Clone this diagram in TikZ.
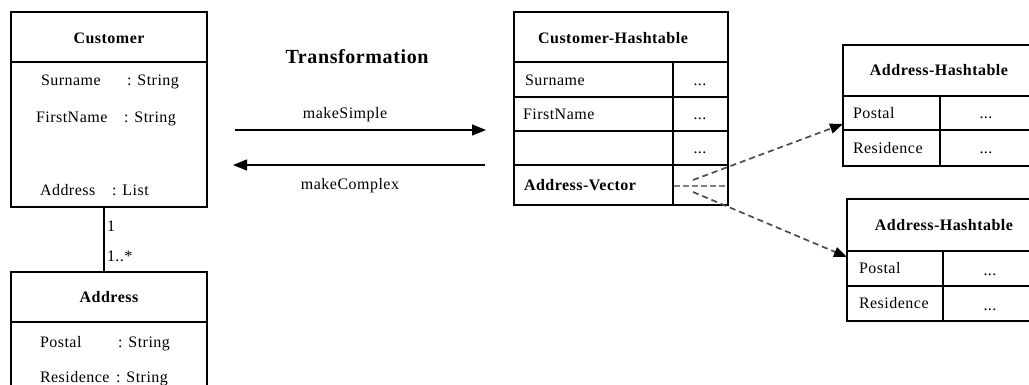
\documentclass[tikz,border=0pt]{standalone}
\usepackage{fontspec}
\setmainfont{Liberation Serif}[LetterSpace=3]
\usetikzlibrary{arrows.meta}
\begin{document}
\begin{tikzpicture}[x=1pt,y=-1pt,
  every node/.style={inner sep=0pt,outer sep=0pt,text height=11pt,text depth=3pt,font=\fontsize{16}{19}\selectfont},
  tbox/.style={draw=black,line width=1.3pt,rectangle,inner sep=0pt,text height=,text depth=},
  sep/.style={draw=black,line width=1.3pt},
  lbl/.style={yshift=-1.5pt},
  ttl/.style={lbl,font=\fontsize{16}{19}\selectfont\bfseries},
  txt/.style={lbl,anchor=west},
  dots/.style={lbl,anchor=center},
  trans/.style={draw=black,line width=1.3pt,-{Triangle[length=14pt,width=11pt]}},
  ref/.style={draw=black!70,line width=1.7pt,dash pattern=on 6pt off 4pt,-{Triangle[length=13pt,width=10pt,color=black]}},
  refline/.style={draw=black!50,line width=2.2pt,dash pattern=on 6pt off 3pt}]
\useasboundingbox (0,0) rectangle (1029,385);
\clip (0,0) rectangle (1029,385);
\fill[white] (0,0) rectangle (1029,385);

% ---- Customer class ----
\node[tbox,minimum width=196pt,minimum height=195pt] (cust) at (109,109.5) {};
\draw[sep] (11,62) -- (207,62);
\node[ttl] (custT) at (109,38) {Customer};
\node[txt] (c1n) at (41,80) {Surname};
\node[txt] (c1t) at (127,80) {: String};
\node[txt] (c2n) at (36,117) {FirstName};
\node[txt] (c2t) at (124,117) {: String};
\node[txt] (c3n) at (40,190) {Address};
\node[txt] (c3t) at (112,190) {: List};

% ---- Address class ----
\node[tbox,minimum width=196pt,minimum height=140pt] (addr) at (109,342) {};
\draw[sep] (11,322) -- (207,322);
\node[ttl] (addrT) at (109,297) {Address};
\node[txt] (a1n) at (40,342) {Postal};
\node[txt] (a1t) at (118,342) {: String};
\node[txt] (a2n) at (40,377) {Residence};
\node[txt] (a2t) at (116,377) {: String};

% association
\coordinate (assocA) at (104,207);
\coordinate (assocB) at (104,272);
\draw[sep] (assocA) -- (assocB);
\node[txt] (m1) at (107,226) {1};
\node[txt] (m2) at (107,256) {1..*};

% ---- Transformation ----
\node[lbl,font=\fontsize{20}{24}\selectfont\bfseries,text height=14pt,text depth=4pt] (transT) at (357,57) {Transformation};
\coordinate (sL) at (235,130);
\coordinate (sR) at (486,130);
\coordinate (cL) at (233,165);
\coordinate (cR) at (485,165);
\draw[trans] (sL) -- (sR);
\draw[trans] (cR) -- (cL);
\node[lbl] (ms) at (345,113) {makeSimple};
\node[lbl] (mc) at (350,184) {makeComplex};

% ---- Customer-Hashtable ----
\node[tbox,minimum width=214pt,minimum height=193pt] (ch) at (621,108.5) {};
\draw[sep] (514,62) -- (728,62);
\draw[sep] (514,97) -- (728,97);
\draw[sep] (514,131) -- (728,131);
\draw[sep] (514,165) -- (728,165);
\draw[sep] (673,62) -- (673,205);
\node[ttl] (chT) at (613,38) {Customer-Hashtable};
\node[txt] (ch1) at (525,80) {Surname};
\node[dots] (ch1v) at (700,80) {...};
\node[txt] (ch2) at (523,114) {FirstName};
\node[dots] (ch2v) at (700,114) {...};
\node[dots] (ch3v) at (700,148) {...};
\node[txt,font=\fontsize{16}{19}\selectfont\bfseries] (ch4) at (524,185) {Address-Vector};

% ---- Address-Hashtable 1 ----
\node[tbox,minimum width=200pt,minimum height=121pt] (ah1) at (943,105.5) {};
\draw[sep] (843,96) -- (1043,96);
\draw[sep] (843,130) -- (1043,130);
\draw[sep] (940,96) -- (940,166);
\node[ttl] (ah1T) at (939,70) {Address-Hashtable};
\node[txt] (ah1a) at (853,113) {Postal};
\node[dots] (ah1av) at (986,113) {...};
\node[txt] (ah1b) at (853,148) {Residence};
\node[dots] (ah1bv) at (986,148) {...};

% ---- Address-Hashtable 2 ----
\node[tbox,minimum width=196pt,minimum height=122pt] (ah2) at (945,260) {};
\draw[sep] (847,251) -- (1043,251);
\draw[sep] (847,286) -- (1043,286);
\draw[sep] (943,251) -- (943,321);
\node[ttl] (ah2T) at (944,225) {Address-Hashtable};
\node[txt] (ah2a) at (859,268) {Postal};
\node[dots] (ah2av) at (990,270) {...};
\node[txt] (ah2b) at (859,303) {Residence};
\node[dots] (ah2bv) at (990,305) {...};

% ---- references ----
\coordinate (avL) at (674,186);
\coordinate (avR) at (727,186);
\coordinate (up0) at (693,180);
\coordinate (dn0) at (693,192);
\coordinate (up1) at (843,124);
\coordinate (dn1) at (847,257);
\draw[refline] (avL) -- (avR);
\draw[ref] (up0) -- (up1);
\draw[ref] (dn0) -- (dn1);
\end{tikzpicture}
\end{document}
